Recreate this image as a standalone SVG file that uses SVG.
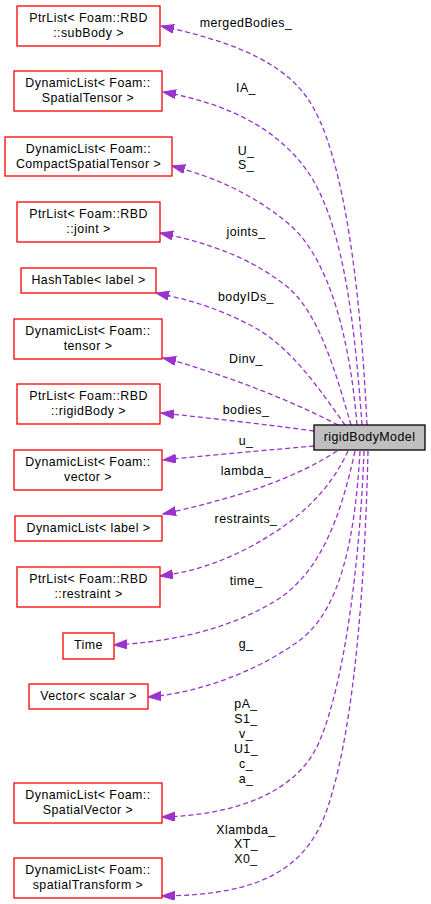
<svg xmlns="http://www.w3.org/2000/svg" width="431" height="904" viewBox="0 0 431 904">
<style>
.n rect{fill:#ffffff;stroke:#ff0000;stroke-width:1.3}
.m rect{fill:#bfbfbf;stroke:#000000;stroke-width:1.3}
text{font-family:"Liberation Sans",Arial,sans-serif;font-size:12.4px;fill:#000000;text-anchor:middle;letter-spacing:0.45px}
.e path{fill:none;stroke:#9a32cd;stroke-width:1.3;stroke-dasharray:5,3;marker-end:url(#ah)}
</style>
<defs>
<marker id="ah" markerUnits="userSpaceOnUse" markerWidth="14" markerHeight="10" refX="13" refY="4.5" orient="auto">
<path d="M0,0 L13,4.5 L0,9 z" fill="#9a32cd" stroke="#9a32cd" stroke-width="1"/>
</marker>
</defs>
<g id="edges" class="e">
<path d="M367,425 C362,320 348,150 305,95 C275,55 215,38 161,26"/>
<path d="M362,425 C355,330 345,230 310,175 C280,130 230,104 163,92"/>
<path d="M357,425 C350,340 330,260 290,225 C255,195 215,177 172,166"/>
<path d="M351,425 C335,370 318,310 285,285 C250,258 210,243 160,233"/>
<path d="M345,425 C320,390 290,345 250,325 C215,307 190,300 156,293"/>
<path d="M338,425 C300,405 250,385 210,372 C195,367 180,362 163,358"/>
<path d="M314,431 C270,425 210,418 161,413"/>
<path d="M314,446 C270,450 210,455 163,460"/>
<path d="M337,451 C300,475 250,495 163,514"/>
<path d="M348,451 C330,490 300,520 250,547 C215,565 190,572 160,576"/>
<path d="M355,451 C340,520 320,570 280,598 C230,630 170,642 114,645"/>
<path d="M360,451 C355,540 340,610 300,640 C260,670 200,693 148,697"/>
<path d="M364,451 C360,560 345,680 320,740 C300,790 240,815 162,817"/>
<path d="M368,451 C365,580 355,720 330,800 C310,870 260,895 162,896"/>
</g>
<g id="edge-labels">
<text x="246" y="27">mergedBodies_</text>
<text x="246" y="92">IA_</text>
<text x="246" y="155">U_</text>
<text x="246" y="169">S_</text>
<text x="246" y="236">joints_</text>
<text x="246" y="301">bodyIDs_</text>
<text x="246" y="363">Dinv_</text>
<text x="246" y="414">bodies_</text>
<text x="246" y="445">u_</text>
<text x="246" y="475">lambda_</text>
<text x="246" y="523">restraints_</text>
<text x="246" y="585">time_</text>
<text x="246" y="648">g_</text>
<text x="246" y="708">pA_</text>
<text x="246" y="723">S1_</text>
<text x="246" y="738">v_</text>
<text x="246" y="753">U1_</text>
<text x="246" y="768">c_</text>
<text x="246" y="783">a_</text>
<text x="246" y="834">Xlambda_</text>
<text x="246" y="848">XT_</text>
<text x="246" y="863">X0_</text>
</g>
<g id="n_subBody" class="n"><rect x="17" y="6" width="143" height="40"/><text x="88.5" y="22">PtrList&lt; Foam::RBD</text><text x="88.5" y="37">::subBody &gt;</text></g>
<g id="n_SpatialTensor" class="n"><rect x="14" y="71" width="148" height="40"/><text x="88" y="87">DynamicList&lt; Foam::</text><text x="88" y="102">SpatialTensor &gt;</text></g>
<g id="n_CompactSpatialTensor" class="n"><rect x="5" y="137" width="167" height="39"/><text x="88.5" y="153">DynamicList&lt; Foam::</text><text x="88.5" y="168">CompactSpatialTensor &gt;</text></g>
<g id="n_joint" class="n"><rect x="17" y="202" width="143" height="40"/><text x="88.5" y="218">PtrList&lt; Foam::RBD</text><text x="88.5" y="233">::joint &gt;</text></g>
<g id="n_HashTable" class="n"><rect x="21" y="268" width="135" height="25"/><text x="88.5" y="284">HashTable&lt; label &gt;</text></g>
<g id="n_tensor" class="n"><rect x="14" y="319" width="148" height="40"/><text x="88" y="335">DynamicList&lt; Foam::</text><text x="88" y="350">tensor &gt;</text></g>
<g id="n_rigidBody" class="n"><rect x="17" y="384" width="143" height="40"/><text x="88.5" y="400">PtrList&lt; Foam::RBD</text><text x="88.5" y="415">::rigidBody &gt;</text></g>
<g id="n_rigidBodyModel" class="m"><rect x="314" y="425" width="111" height="25"/><text x="369.5" y="441">rigidBodyModel</text></g>
<g id="n_vector" class="n"><rect x="14" y="450" width="148" height="40"/><text x="88" y="466">DynamicList&lt; Foam::</text><text x="88" y="481">vector &gt;</text></g>
<g id="n_DynamicListLabel" class="n"><rect x="15" y="516" width="147" height="25"/><text x="88.5" y="532">DynamicList&lt; label &gt;</text></g>
<g id="n_restraint" class="n"><rect x="17" y="567" width="143" height="40"/><text x="88.5" y="583">PtrList&lt; Foam::RBD</text><text x="88.5" y="598">::restraint &gt;</text></g>
<g id="n_Time" class="n"><rect x="63" y="633" width="51" height="26"/><text x="88.5" y="649">Time</text></g>
<g id="n_VectorScalar" class="n"><rect x="29" y="684" width="119" height="25"/><text x="88.5" y="700">Vector&lt; scalar &gt;</text></g>
<g id="n_SpatialVector" class="n"><rect x="14" y="783" width="148" height="40"/><text x="88" y="799">DynamicList&lt; Foam::</text><text x="88" y="814">SpatialVector &gt;</text></g>
<g id="n_spatialTransform" class="n"><rect x="14" y="858" width="148" height="40"/><text x="88" y="874">DynamicList&lt; Foam::</text><text x="88" y="889">spatialTransform &gt;</text></g>
</svg>
